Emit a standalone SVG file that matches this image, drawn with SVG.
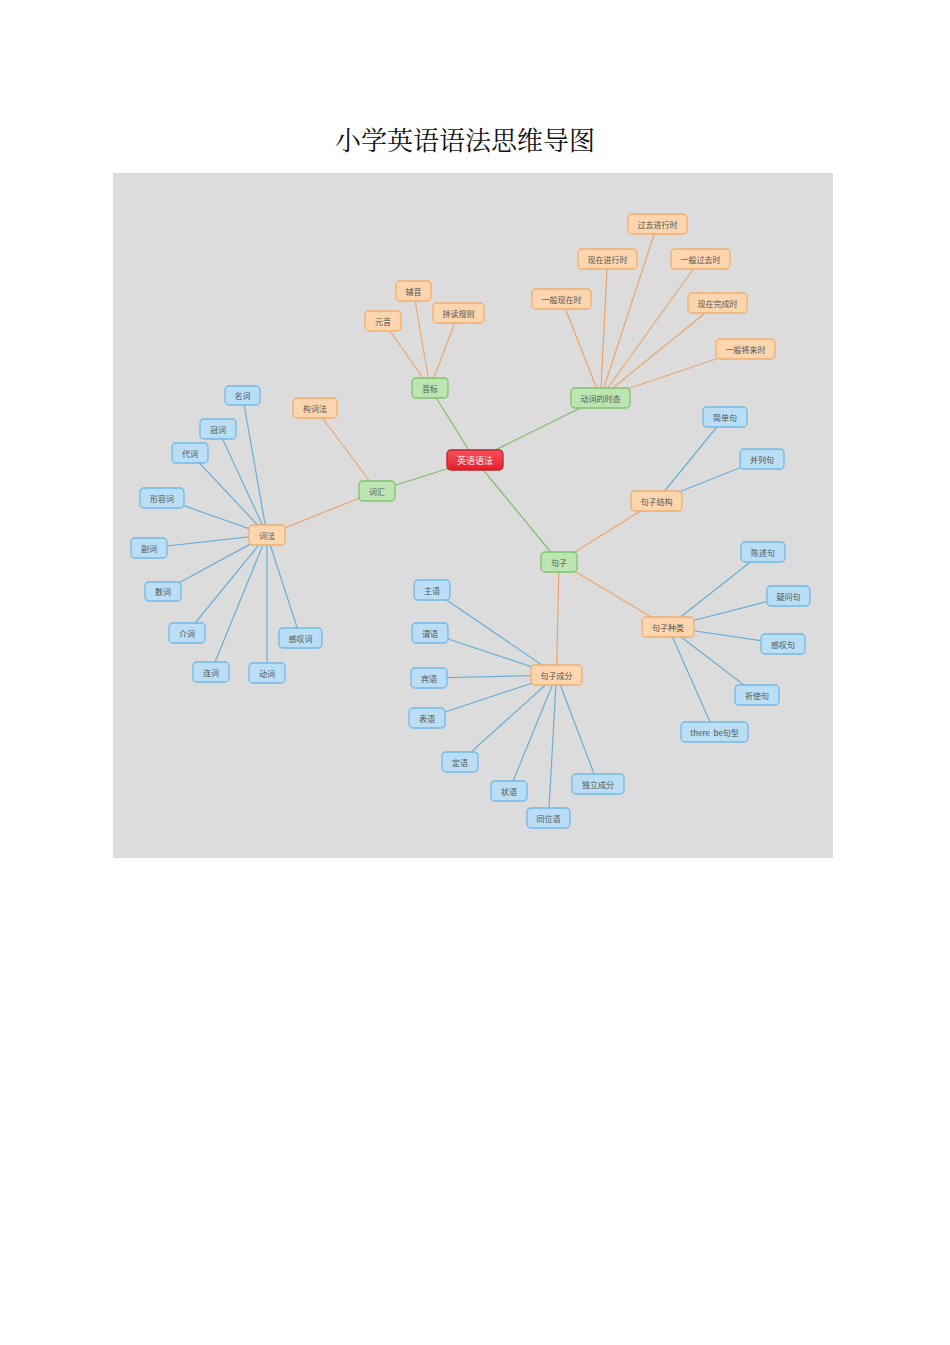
<svg xmlns="http://www.w3.org/2000/svg" width="950" height="1345" viewBox="0 0 950 1345">
<defs>
<linearGradient id="redg" x1="0" y1="0" x2="0" y2="1">
<stop offset="0" stop-color="#f5525a"/>
<stop offset="1" stop-color="#e51f2c"/>
</linearGradient>
<style>
.t{font-family:"Noto Sans CJK SC","Noto Sans",sans-serif;font-size:8px;fill:#555;text-anchor:middle;dominant-baseline:central}
.tw{fill:#fff;font-size:9px}
.b rect{fill:#b9def5;stroke:#72b9e6;stroke-width:1.3}
.o rect{fill:#fdd5ae;stroke:#f3ad6c;stroke-width:1.3}
.g rect{fill:#bde5b2;stroke:#7dc46c;stroke-width:1.3}
.r rect{fill:url(#redg);stroke:#b8262c;stroke-width:1.3}
.lb{stroke:#6aaed8;stroke-width:1.2;fill:none}
.lo{stroke:#eda56a;stroke-width:1.2;fill:none}
.lg{stroke:#7fbf6c;stroke-width:1.2;fill:none}
</style>
</defs>
<rect width="950" height="1345" fill="#fff"/>
<text x="465" y="150" style="font-family:'Noto Serif CJK SC','Noto Sans CJK SC',serif;font-size:26px;fill:#111" text-anchor="middle">小学英语语法思维导图</text>
<rect x="113" y="173" width="720" height="685" fill="#dcdcdc"/>
<g id="connectors">
<line class="lg" x1="475" y1="460" x2="430" y2="388"/>
<line class="lg" x1="475" y1="460" x2="600.5" y2="398"/>
<line class="lg" x1="475" y1="460" x2="377" y2="491"/>
<line class="lg" x1="475" y1="460" x2="559" y2="562"/>
<line class="lo" x1="430" y1="388" x2="413.5" y2="291"/>
<line class="lo" x1="430" y1="388" x2="383" y2="321"/>
<line class="lo" x1="430" y1="388" x2="458.5" y2="313"/>
<line class="lo" x1="600.5" y1="398" x2="561.5" y2="299"/>
<line class="lo" x1="600.5" y1="398" x2="607.5" y2="259"/>
<line class="lo" x1="600.5" y1="398" x2="657.5" y2="224"/>
<line class="lo" x1="600.5" y1="398" x2="700.5" y2="259"/>
<line class="lo" x1="600.5" y1="398" x2="717.5" y2="303"/>
<line class="lo" x1="600.5" y1="398" x2="745.5" y2="349"/>
<line class="lo" x1="377" y1="491" x2="315" y2="408"/>
<line class="lo" x1="377" y1="491" x2="267" y2="535"/>
<line class="lo" x1="559" y1="562" x2="656.5" y2="501"/>
<line class="lo" x1="559" y1="562" x2="668" y2="627"/>
<line class="lo" x1="559" y1="562" x2="556.5" y2="675"/>
<line class="lb" x1="267" y1="535" x2="242.5" y2="395.5"/>
<line class="lb" x1="267" y1="535" x2="218" y2="429"/>
<line class="lb" x1="267" y1="535" x2="190" y2="453"/>
<line class="lb" x1="267" y1="535" x2="162" y2="498"/>
<line class="lb" x1="267" y1="535" x2="149" y2="548"/>
<line class="lb" x1="267" y1="535" x2="163" y2="591.5"/>
<line class="lb" x1="267" y1="535" x2="187" y2="633"/>
<line class="lb" x1="267" y1="535" x2="211" y2="672"/>
<line class="lb" x1="267" y1="535" x2="267" y2="673"/>
<line class="lb" x1="267" y1="535" x2="300.5" y2="638"/>
<line class="lb" x1="656.5" y1="501" x2="725" y2="417"/>
<line class="lb" x1="656.5" y1="501" x2="762" y2="459"/>
<line class="lb" x1="668" y1="627" x2="763" y2="552"/>
<line class="lb" x1="668" y1="627" x2="788.5" y2="596"/>
<line class="lb" x1="668" y1="627" x2="783" y2="644"/>
<line class="lb" x1="668" y1="627" x2="757" y2="695"/>
<line class="lb" x1="668" y1="627" x2="714.5" y2="732"/>
<line class="lb" x1="556.5" y1="675" x2="432" y2="590"/>
<line class="lb" x1="556.5" y1="675" x2="430" y2="633"/>
<line class="lb" x1="556.5" y1="675" x2="429" y2="678"/>
<line class="lb" x1="556.5" y1="675" x2="427" y2="718"/>
<line class="lb" x1="556.5" y1="675" x2="460" y2="762"/>
<line class="lb" x1="556.5" y1="675" x2="509" y2="791"/>
<line class="lb" x1="556.5" y1="675" x2="548.5" y2="818"/>
<line class="lb" x1="556.5" y1="675" x2="598" y2="784"/>
</g>
<g id="root" class="r"><rect x="447" y="450" width="56" height="20" rx="4"/><text class="t tw" x="475" y="460">英语语法</text></g>
<g id="yinbiao" class="g"><rect x="412" y="378" width="36" height="20" rx="4"/><text class="t" x="430" y="388">音标</text></g>
<g id="shitai" class="g"><rect x="571" y="388" width="59" height="20" rx="4"/><text class="t" x="600.5" y="398">动词的时态</text></g>
<g id="cihui" class="g"><rect x="359" y="481" width="36" height="20" rx="4"/><text class="t" x="377" y="491">词汇</text></g>
<g id="juzi" class="g"><rect x="541" y="552" width="36" height="20" rx="4"/><text class="t" x="559" y="562">句子</text></g>
<g id="fuyin" class="o"><rect x="396" y="281" width="35" height="20" rx="4"/><text class="t" x="413.5" y="291">辅音</text></g>
<g id="yuanyin" class="o"><rect x="365" y="311" width="36" height="20" rx="4"/><text class="t" x="383" y="321">元音</text></g>
<g id="pindu" class="o"><rect x="433" y="303" width="51" height="20" rx="4"/><text class="t" x="458.5" y="313">拼读规则</text></g>
<g id="ybxz" class="o"><rect x="532" y="289" width="59" height="20" rx="4"/><text class="t" x="561.5" y="299">一般现在时</text></g>
<g id="xzjx" class="o"><rect x="578" y="249" width="59" height="20" rx="4"/><text class="t" x="607.5" y="259">现在进行时</text></g>
<g id="gqjx" class="o"><rect x="628" y="214" width="59" height="20" rx="4"/><text class="t" x="657.5" y="224">过去进行时</text></g>
<g id="ybgq" class="o"><rect x="671" y="249" width="59" height="20" rx="4"/><text class="t" x="700.5" y="259">一般过去时</text></g>
<g id="xzwc" class="o"><rect x="688" y="293" width="59" height="20" rx="4"/><text class="t" x="717.5" y="303">现在完成时</text></g>
<g id="ybjl" class="o"><rect x="716" y="339" width="59" height="20" rx="4"/><text class="t" x="745.5" y="349">一般将来时</text></g>
<g id="gouci" class="o"><rect x="293" y="398" width="44" height="20" rx="4"/><text class="t" x="315" y="408">构词法</text></g>
<g id="cifa" class="o"><rect x="249" y="525" width="36" height="20" rx="4"/><text class="t" x="267" y="535">词法</text></g>
<g id="jzjg" class="o"><rect x="631" y="491" width="51" height="20" rx="4"/><text class="t" x="656.5" y="501">句子结构</text></g>
<g id="jzzl" class="o"><rect x="642" y="617" width="52" height="20" rx="4"/><text class="t" x="668" y="627">句子种类</text></g>
<g id="jzcf" class="o"><rect x="531" y="665" width="51" height="20" rx="4"/><text class="t" x="556.5" y="675">句子成分</text></g>
<g id="mingci" class="b"><rect x="225" y="386" width="35" height="19" rx="4"/><text class="t" x="242.5" y="395.5">名词</text></g>
<g id="guanci" class="b"><rect x="200" y="419" width="36" height="20" rx="4"/><text class="t" x="218" y="429">冠词</text></g>
<g id="daici" class="b"><rect x="172" y="443" width="36" height="20" rx="4"/><text class="t" x="190" y="453">代词</text></g>
<g id="xingrong" class="b"><rect x="140" y="488" width="44" height="20" rx="4"/><text class="t" x="162" y="498">形容词</text></g>
<g id="fuci" class="b"><rect x="131" y="538" width="36" height="20" rx="4"/><text class="t" x="149" y="548">副词</text></g>
<g id="shuci" class="b"><rect x="145" y="582" width="36" height="19" rx="4"/><text class="t" x="163" y="591.5">数词</text></g>
<g id="jieci" class="b"><rect x="169" y="623" width="36" height="20" rx="4"/><text class="t" x="187" y="633">介词</text></g>
<g id="lianci" class="b"><rect x="193" y="662" width="36" height="20" rx="4"/><text class="t" x="211" y="672">连词</text></g>
<g id="dongci" class="b"><rect x="249" y="663" width="36" height="20" rx="4"/><text class="t" x="267" y="673">动词</text></g>
<g id="gantanci" class="b"><rect x="279" y="628" width="43" height="20" rx="4"/><text class="t" x="300.5" y="638">感叹词</text></g>
<g id="jiandan" class="b"><rect x="703" y="407" width="44" height="20" rx="4"/><text class="t" x="725" y="417">简单句</text></g>
<g id="binglie" class="b"><rect x="740" y="449" width="44" height="20" rx="4"/><text class="t" x="762" y="459">并列句</text></g>
<g id="chenshu" class="b"><rect x="741" y="542" width="44" height="20" rx="4"/><text class="t" x="763" y="552">陈述句</text></g>
<g id="yiwen" class="b"><rect x="767" y="586" width="43" height="20" rx="4"/><text class="t" x="788.5" y="596">疑问句</text></g>
<g id="gantanju" class="b"><rect x="761" y="634" width="44" height="20" rx="4"/><text class="t" x="783" y="644">感叹句</text></g>
<g id="qishi" class="b"><rect x="735" y="685" width="44" height="20" rx="4"/><text class="t" x="757" y="695">祈使句</text></g>
<g id="therebe" class="b"><rect x="681" y="722" width="67" height="20" rx="4"/><text class="t" x="714.5" y="732" xml:space="preserve">there  be句型</text></g>
<g id="zhuyu" class="b"><rect x="414" y="580" width="36" height="20" rx="4"/><text class="t" x="432" y="590">主语</text></g>
<g id="weiyu" class="b"><rect x="412" y="623" width="36" height="20" rx="4"/><text class="t" x="430" y="633">谓语</text></g>
<g id="binyu" class="b"><rect x="411" y="668" width="36" height="20" rx="4"/><text class="t" x="429" y="678">宾语</text></g>
<g id="biaoyu" class="b"><rect x="409" y="708" width="36" height="20" rx="4"/><text class="t" x="427" y="718">表语</text></g>
<g id="dingyu" class="b"><rect x="442" y="752" width="36" height="20" rx="4"/><text class="t" x="460" y="762">定语</text></g>
<g id="zhuangyu" class="b"><rect x="491" y="781" width="36" height="20" rx="4"/><text class="t" x="509" y="791">状语</text></g>
<g id="tongwei" class="b"><rect x="527" y="808" width="43" height="20" rx="4"/><text class="t" x="548.5" y="818">同位语</text></g>
<g id="duli" class="b"><rect x="572" y="774" width="52" height="20" rx="4"/><text class="t" x="598" y="784">独立成分</text></g>
</svg>
